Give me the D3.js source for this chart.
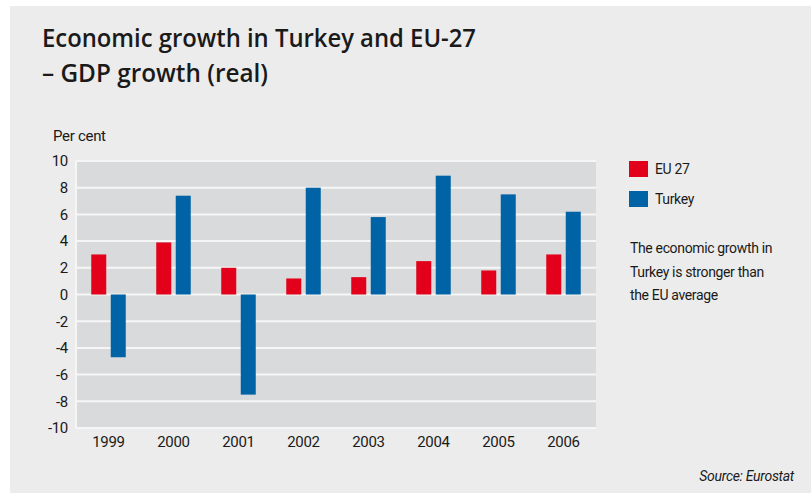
<!DOCTYPE html>
<html>
<head>
<meta charset="utf-8">
<script src="https://cdn.jsdelivr.net/npm/d3@7"></script>
<style>
  body { margin: 0; background: #fff; }
  svg { display: block; }
  text { fill: #1a1a1a; }
  .narrow { font-family: Roboto, "Liberation Sans Narrow", sans-serif; letter-spacing: -0.3px; }
</style>
</head>
<body>
<svg id="chart"></svg>
<script>
const years = ["1999", "2000", "2001", "2002", "2003", "2004", "2005", "2006"];
const eu27 = [3.0, 3.9, 2.0, 1.2, 1.3, 2.5, 1.8, 3.0];
const turkey = [-4.7, 7.4, -7.5, 8.0, 5.8, 8.9, 7.5, 6.2];
const yTicks = [-10, -8, -6, -4, -2, 0, 2, 4, 6, 8, 10];
const seriesNames = ["EU 27", "Turkey"];
const colors = ["#e2001a", "#0063a6"];

const width = 811;
const height = 493;
const svg = d3.select("#chart").attr("width", width).attr("height", height);

// outer panel
svg.append("rect")
  .attr("x", 10).attr("y", 6)
  .attr("width", width - 10).attr("height", height - 6)
  .attr("fill", "#ececec");

// title
const title = svg.append("text")
  .attr("font-family", "Open Sans, sans-serif")
  .attr("font-weight", 600)
  .attr("font-size", 25);
title.append("tspan").attr("x", 42).attr("y", 47)
  .attr("textLength", 434).attr("lengthAdjust", "spacingAndGlyphs")
  .text("Economic growth in Turkey and EU-27");
title.append("tspan").attr("x", 42).attr("y", 82)
  .attr("textLength", 226).attr("lengthAdjust", "spacingAndGlyphs")
  .text("– GDP growth (real)");

const plot = { left: 76, right: 596, top: 161, bottom: 428 };

const x = d3.scaleBand().domain(years).range([plot.left, plot.right]);
const y = d3.scaleLinear().domain([-10, 10]).range([plot.bottom, plot.top]);

const g = svg.append("g");

g.append("rect")
  .attr("x", plot.left).attr("y", plot.top)
  .attr("width", plot.right - plot.left).attr("height", plot.bottom - plot.top)
  .attr("fill", "#d9dadb");

// gridlines
g.selectAll(".grid")
  .data(yTicks)
  .enter()
  .append("line")
  .attr("x1", plot.left).attr("x2", plot.right)
  .attr("y1", (d) => y(d)).attr("y2", (d) => y(d))
  .attr("stroke", "#f6f6f6")
  .attr("stroke-width", 2);

g.append("line")
  .attr("x1", plot.left).attr("x2", plot.left)
  .attr("y1", plot.top).attr("y2", plot.bottom)
  .attr("stroke", "#f6f6f6")
  .attr("stroke-width", 2);

// y axis labels (plain hyphen for negatives, as in the original)
const yAxis = g.append("g")
  .attr("class", "narrow")
  .attr("transform", `translate(${plot.left},0)`)
  .call(d3.axisLeft(y).tickValues(yTicks).tickSize(0).tickPadding(8).tickFormat((d) => String(d)));
yAxis.select(".domain").remove();
yAxis.selectAll("text").attr("font-size", 15).attr("fill", "#1a1a1a");

// x axis labels
const xAxis = g.append("g")
  .attr("class", "narrow")
  .attr("transform", `translate(0,${plot.bottom})`)
  .call(d3.axisBottom(x).tickSize(0).tickPadding(8));
xAxis.select(".domain").remove();
xAxis.selectAll("text").attr("font-size", 15).attr("fill", "#1a1a1a");

svg.append("text")
  .attr("class", "narrow")
  .attr("x", 53).attr("y", 141)
  .attr("font-size", 15)
  .text("Per cent");

// bars
const barW = 15;
const gap = 4.5;
const barData = [];
years.forEach((yr, i) => {
  barData.push({ year: yr, s: 0, v: eu27[i] });
  barData.push({ year: yr, s: 1, v: turkey[i] });
});

g.selectAll(".bar")
  .data(barData)
  .enter()
  .append("rect")
  .attr("class", "bar")
  .attr("x", (d) => {
    const c = x(d.year) + x.bandwidth() / 2;
    return d.s === 0 ? c - gap / 2 - barW : c + gap / 2;
  })
  .attr("y", (d) => y(Math.max(0, d.v)))
  .attr("width", barW)
  .attr("height", (d) => Math.abs(y(d.v) - y(0)))
  .attr("fill", (d) => colors[d.s]);

// legend
const legend = svg.append("g").attr("class", "narrow").style("letter-spacing", "-0.35px");
seriesNames.forEach((name, i) => {
  legend.append("rect")
    .attr("x", 629).attr("y", 161 + i * 30)
    .attr("width", 19).attr("height", 16)
    .attr("fill", colors[i]);
  legend.append("text")
    .attr("x", 655).attr("y", 174 + i * 30)
    .attr("font-size", 14)
    .text(name);
});

const note = ["The economic growth in", "Turkey is stronger than", "the EU average"];
legend.selectAll(".note")
  .data(note)
  .enter()
  .append("text")
  .attr("x", 630)
  .attr("y", (d, i) => 253 + i * 23.5)
  .attr("font-size", 14)
  .text((d) => d);

svg.append("text")
  .attr("class", "narrow")
  .attr("x", 794).attr("y", 481)
  .attr("text-anchor", "end")
  .attr("font-size", 14)
  .attr("font-style", "italic")
  .text("Source: Eurostat");
</script>
</body>
</html>
